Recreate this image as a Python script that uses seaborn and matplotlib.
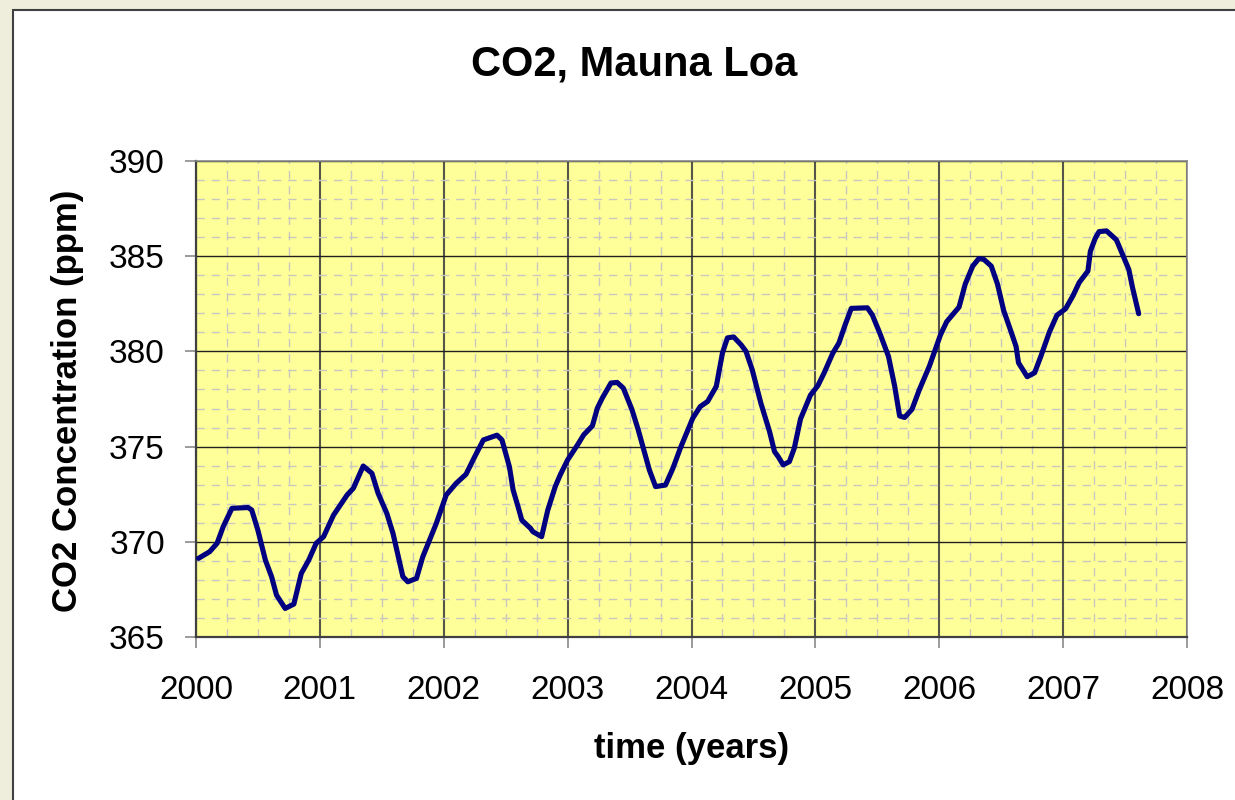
import matplotlib
matplotlib.use("Agg")
import matplotlib.pyplot as plt
from matplotlib.patches import Rectangle
from matplotlib.ticker import MultipleLocator
import seaborn as sns
import pandas as pd

# ---- data ----
years = [
    2000.02, 2000.11, 2000.17, 2000.22, 2000.29, 2000.42, 2000.45, 2000.50, 2000.56, 2000.61,
    2000.65, 2000.72, 2000.79, 2000.85, 2000.91, 2000.97, 2001.03, 2001.11, 2001.22, 2001.27,
    2001.35, 2001.42, 2001.47, 2001.54, 2001.59, 2001.67, 2001.71, 2001.78, 2001.83, 2001.94,
    2002.02, 2002.10, 2002.18, 2002.25, 2002.32, 2002.43, 2002.47, 2002.53, 2002.56, 2002.60,
    2002.63, 2002.70, 2002.72, 2002.79, 2002.84, 2002.90, 2002.94, 2003.00, 2003.08, 2003.13,
    2003.20, 2003.24, 2003.28, 2003.35, 2003.40, 2003.45, 2003.52, 2003.57, 2003.60, 2003.66,
    2003.71, 2003.79, 2003.85, 2003.91, 2004.01, 2004.07, 2004.13, 2004.20, 2004.25, 2004.29,
    2004.34, 2004.40, 2004.44, 2004.49, 2004.56, 2004.63, 2004.67, 2004.70, 2004.74, 2004.79,
    2004.83, 2004.88, 2004.96, 2005.02, 2005.07, 2005.14, 2005.19, 2005.24, 2005.29, 2005.42,
    2005.46, 2005.52, 2005.59, 2005.64, 2005.68, 2005.72, 2005.78, 2005.84, 2005.92, 2006.01,
    2006.06, 2006.16, 2006.21, 2006.27, 2006.32, 2006.36, 2006.42, 2006.47, 2006.52, 2006.58,
    2006.62, 2006.64, 2006.71, 2006.77, 2006.82, 2006.89, 2006.95, 2007.02, 2007.08, 2007.13,
    2007.20, 2007.22, 2007.26, 2007.29, 2007.35, 2007.43, 2007.48, 2007.53, 2007.56, 2007.61,
]
co2_ppm = [
    369.13, 369.48, 369.92, 370.80, 371.76, 371.80, 371.67, 370.60, 369.04, 368.17,
    367.20, 366.50, 366.73, 368.34, 369.04, 369.92, 370.27, 371.40, 372.46, 372.81,
    373.98, 373.60, 372.55, 371.50, 370.45, 368.17, 367.90, 368.08, 369.20, 370.97,
    372.46, 373.07, 373.55, 374.47, 375.35, 375.60, 375.35, 373.94, 372.72, 371.84,
    371.14, 370.71, 370.53, 370.27, 371.67, 372.90, 373.51, 374.30, 375.09, 375.62,
    376.09, 377.02, 377.55, 378.34, 378.37, 378.07, 376.93, 375.88, 375.18, 373.77,
    372.90, 372.98, 373.86, 374.92, 376.49, 377.10, 377.37, 378.16, 379.92, 380.71,
    380.76, 380.35, 380.00, 379.04, 377.28, 375.79, 374.74, 374.47, 374.04, 374.21,
    374.92, 376.45, 377.70, 378.20, 378.86, 379.90, 380.44, 381.39, 382.26, 382.29,
    381.91, 380.96, 379.74, 378.18, 376.61, 376.53, 376.96, 378.00, 379.22, 380.87,
    381.56, 382.33, 383.54, 384.48, 384.88, 384.83, 384.48, 383.54, 382.15, 381.03,
    380.26, 379.40, 378.67, 378.88, 379.74, 381.03, 381.90, 382.24, 382.93, 383.62,
    384.22, 385.26, 385.95, 386.29, 386.33, 385.86, 385.09, 384.31, 383.36, 381.98,
]
x_ticks = [2000, 2001, 2002, 2003, 2004, 2005, 2006, 2007, 2008]
y_ticks = [365, 370, 375, 380, 385, 390]
title_text = "CO2, Mauna Loa"
x_label = "time (years)"
y_label = "CO2 Concentration (ppm)"

df = pd.DataFrame({"year": years, "co2": co2_ppm})

sns.set_style("white")
plt.rcParams["font.family"] = ["Liberation Sans", "DejaVu Sans"]
plt.rcParams["text.color"] = "black"
plt.rcParams["axes.labelcolor"] = "black"
plt.rcParams["xtick.color"] = "black"
plt.rcParams["ytick.color"] = "black"

W, H = 1235, 800
fig = plt.figure(figsize=(W / 100, H / 100), dpi=100)
fig.patch.set_facecolor("#EFEEDC")

# white chart area with dark border (extends past right/bottom edges)
fig.patches.append(Rectangle((13 / W, -0.05), 1.1, 1 - 10 / H + 0.05,
                             transform=fig.transFigure, facecolor="white",
                             edgecolor="#404040", linewidth=1.5, zorder=-10))

ax = fig.add_axes([196 / W, 1 - 637 / H, (1187 - 196) / W, (637 - 161) / H])
ax.set_zorder(1)
ax.set_facecolor("#FFFF99")

sns.lineplot(data=df, x="year", y="co2", ax=ax, color="#000080",
             linewidth=3.7, sort=False, estimator=None, zorder=5,
             solid_joinstyle="round", solid_capstyle="round")

ax.set_xlim(2000, 2008)
ax.set_ylim(365, 390)
ax.set_xticks(x_ticks)
ax.set_yticks(y_ticks)
ax.set_xticklabels([str(t) for t in x_ticks])
ax.set_yticklabels([str(t) for t in y_ticks])
ax.xaxis.set_minor_locator(MultipleLocator(0.25))
ax.yaxis.set_minor_locator(MultipleLocator(1))

ax.grid(False)
ax.set_axisbelow(True)
ax.grid(which="minor", axis="both", color="#C8C8C0", linestyle=(0, (6, 5)), linewidth=1.0, zorder=1)
ax.grid(which="major", axis="x", color="#55554A", linewidth=1.5, zorder=2)
ax.grid(which="major", axis="y", color="#202020", linewidth=1.0, zorder=2)

ax.tick_params(which="major", direction="out", length=8, width=1.1, color="#808080",
               labelsize=24, labelcolor="black")
ax.tick_params(axis="y", which="major", pad=14.4, left=True)
ax.tick_params(axis="x", which="major", pad=19.5, bottom=True)
ax.tick_params(which="minor", length=0)

for side in ["left", "bottom"]:
    ax.spines[side].set_color("#404040")
    ax.spines[side].set_linewidth(1.6)
for side in ["top", "right"]:
    ax.spines[side].set_color("#888888")
    ax.spines[side].set_linewidth(1.2)
    ax.spines[side].set_visible(True)

ax.set_xlabel("")
ax.set_ylabel("")

fig.text(634 / W, 1 - 76 / H, title_text, ha="center", va="baseline",
         fontsize=30, fontweight="bold", color="black")
fig.text(691.5 / W, 1 - 758 / H, x_label, ha="center", va="baseline",
         fontsize=25, fontweight="bold", color="black")
fig.text(68 / W, 1 - 401 / H, y_label, ha="center", va="center", rotation=90,
         fontsize=25, fontweight="bold", color="black")

fig.savefig("out.png", dpi=100, facecolor=fig.get_facecolor())
